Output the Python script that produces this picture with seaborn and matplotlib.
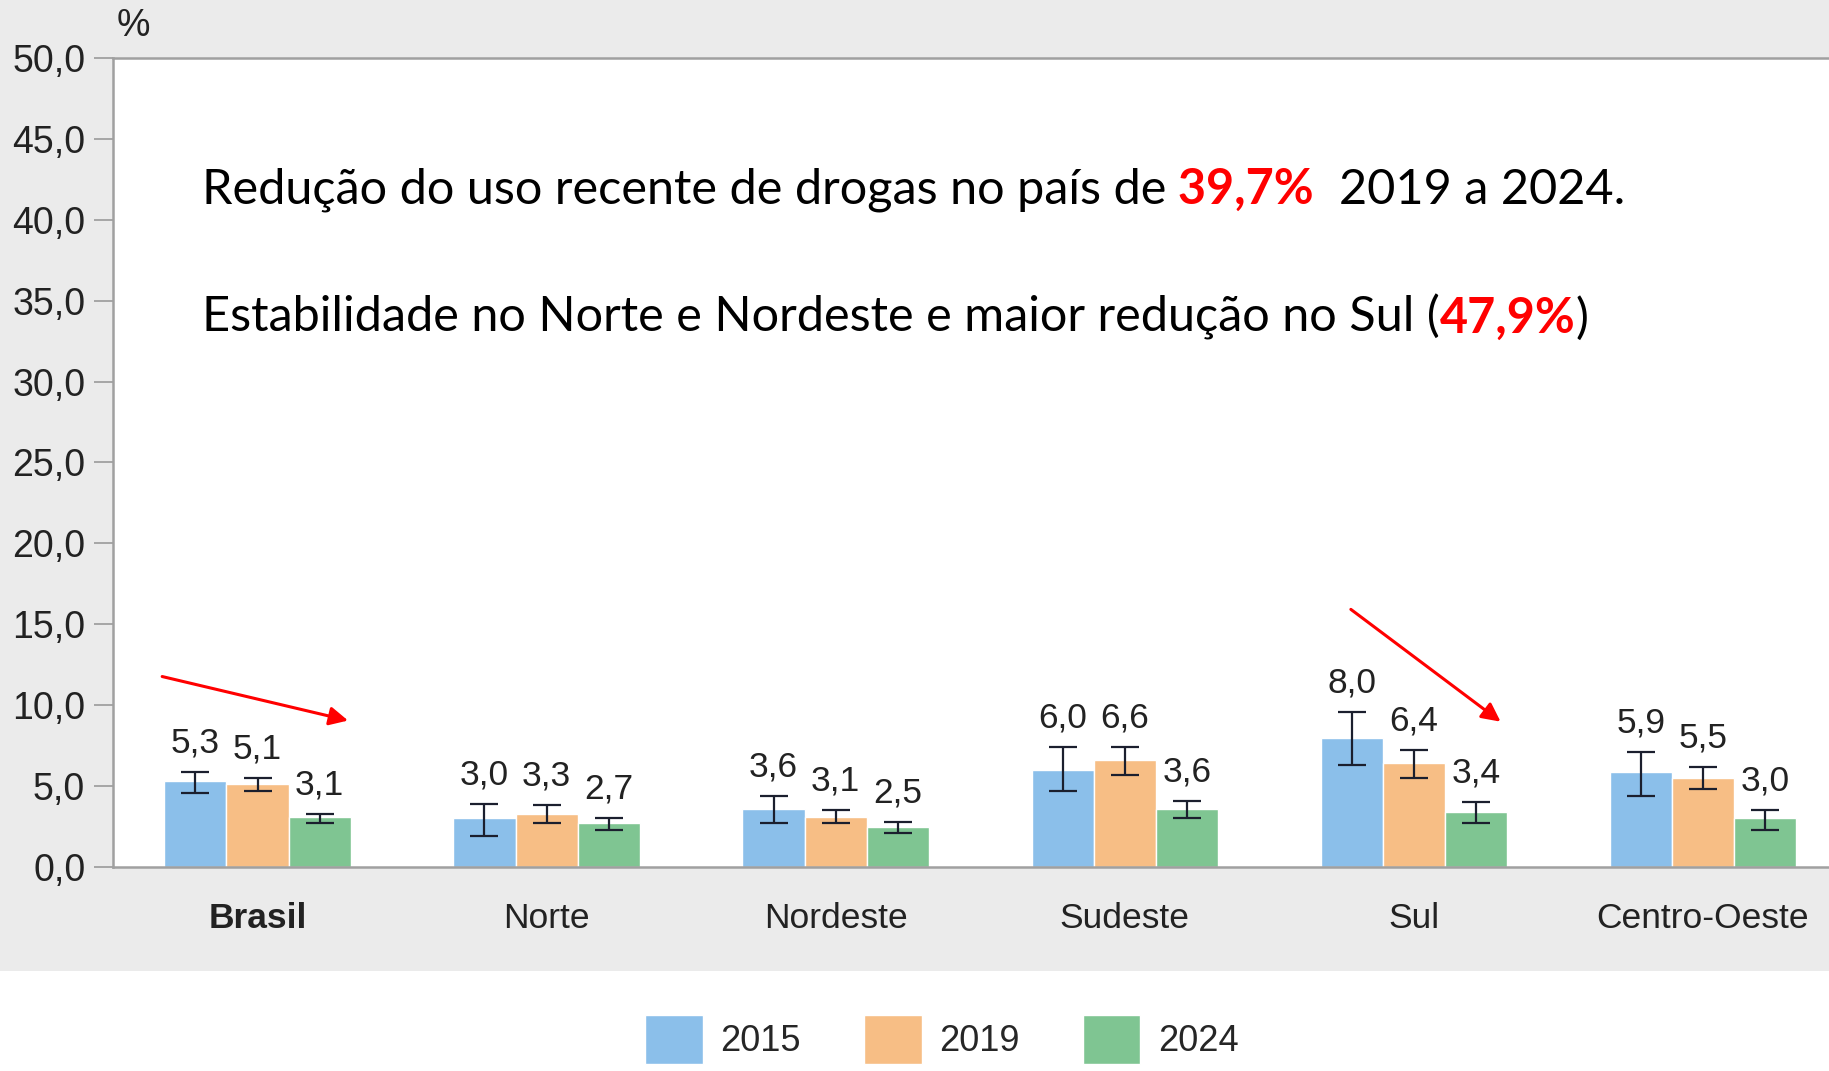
# Uso recente de drogas por região - 2015, 2019 e 2024

import pandas as pd
import matplotlib.pyplot as plt
import seaborn as sns
from matplotlib.patches import Rectangle

regioes = ["Brasil", "Norte", "Nordeste", "Sudeste", "Sul", "Centro-Oeste"]
anos = ["2015", "2019", "2024"]

valores_2015 = [5.3, 3.0, 3.6, 6.0, 8.0, 5.9]
valores_2019 = [5.1, 3.3, 3.1, 6.6, 6.4, 5.5]
valores_2024 = [3.1, 2.7, 2.5, 3.6, 3.4, 3.0]

# intervalos de confiança
ic_inf_2015 = [4.6, 1.9, 2.7, 4.7, 6.3, 4.4]
ic_sup_2015 = [5.9, 3.9, 4.4, 7.4, 9.6, 7.1]
ic_inf_2019 = [4.7, 2.7, 2.7, 5.7, 5.5, 4.8]
ic_sup_2019 = [5.5, 3.8, 3.5, 7.4, 7.2, 6.2]
ic_inf_2024 = [2.7, 2.3, 2.1, 3.0, 2.7, 2.3]
ic_sup_2024 = [3.3, 3.0, 2.8, 4.1, 4.0, 3.5]

cores = ["#8BBFEA", "#F7BE85", "#7FC592"]

narrow = ["Liberation Sans Narrow", "Liberation Sans"]
label_font = ["Liberation Sans", "DejaVu Sans"]
note_font = ["Lato", "DejaVu Sans"]


def build_frame():
    rows = []
    series = [
        (valores_2015, ic_inf_2015, ic_sup_2015),
        (valores_2019, ic_inf_2019, ic_sup_2019),
        (valores_2024, ic_inf_2024, ic_sup_2024),
    ]
    for ano, (vals, lo, hi) in zip(anos, series):
        for reg, v, l, h in zip(regioes, vals, lo, hi):
            rows.append({"regiao": reg, "ano": ano, "valor": v, "inf": l, "sup": h})
    return pd.DataFrame(rows)


def fmt(v):
    return f"{v:.1f}".replace(".", ",")


def plot_uso_drogas(df):
    sns.set_style("white")
    plt.rcParams["font.family"] = label_font

    fig = plt.figure(figsize=(18.29, 10.71), dpi=100, facecolor="white")
    # fundo cinza da área do gráfico
    fig.add_artist(Rectangle((0, 0.0934), 1, 0.91, transform=fig.transFigure,
                             facecolor="#EBEBEB", edgecolor="none", zorder=-10))

    ax = fig.add_axes([0.0618, 0.1905, 0.9382, 0.7554])
    ax.set_facecolor("white")

    sns.barplot(data=df, x="regiao", y="valor", hue="ano", order=regioes,
                hue_order=anos, palette=cores, saturation=1, width=0.645,
                gap=0, errorbar=None, ax=ax)

    # barras de erro + rótulos de valor
    for cont, ano in zip(ax.containers, anos):
        sub = df[df["ano"] == ano].set_index("regiao").loc[regioes]
        xs = [p.get_x() + p.get_width() / 2 for p in cont.patches]
        vals = sub["valor"].to_numpy()
        lo = vals - sub["inf"].to_numpy()
        hi = sub["sup"].to_numpy() - vals
        ax.errorbar(xs, vals, yerr=[lo, hi], fmt="none", ecolor="#1B1F2E",
                    elinewidth=1.6, capsize=10, capthick=1.6, zorder=5)
        for x, v, top in zip(xs, vals, sub["sup"].to_numpy()):
            ax.annotate(fmt(v), xy=(x, top), xytext=(0, 9), textcoords="offset points",
                        ha="center", va="bottom", fontsize=25.5, color="#222222")

    ax.set_xlim(-0.5, 5.436)
    ax.set_ylim(0, 50)
    ax.set_yticks(range(0, 51, 5))
    ax.set_yticklabels([fmt(v) for v in range(0, 51, 5)], family=narrow, fontsize=27,
                       color="#222222")
    ax.tick_params(axis="y", length=14, width=1.2, color="#9A9A9A", pad=6, left=True)
    ax.tick_params(axis="x", length=0, pad=25, labelsize=25.5, labelcolor="#222222")
    ax.get_xticklabels()[0].set_fontweight("bold")
    ax.set_xlabel("")
    ax.set_ylabel("")

    for side in ["left", "bottom", "top"]:
        ax.spines[side].set_visible(True)
        ax.spines[side].set_color("#A0A0A0")
        ax.spines[side].set_linewidth(1.8)
    ax.spines["right"].set_visible(False)

    fig.text(133 / 1829, 1 - 26 / 1071, "%", family=narrow, fontsize=27,
             ha="center", va="center", color="#222222")

    # legenda embaixo
    handles, labels = ax.get_legend_handles_labels()
    ax.get_legend().remove()
    fig.legend(handles, labels, loc="upper left", bbox_to_anchor=(645 / 1829, 0.0523),
               ncol=3, frameon=False, prop={"family": narrow, "size": 26},
               handlelength=1.6, handleheight=1.7, handletextpad=0.48,
               columnspacing=1.75, borderpad=0, borderaxespad=0)

    # textos de destaque
    linhas = [
        [("Redução do uso recente de drogas no país de", "black", "normal"),
         (" 39,7%", "red", "bold"),
         ("  2019 a 2024.", "black", "normal")],
        [("Estabilidade no Norte e Nordeste e maior redução no Sul (", "black", "normal"),
         ("47,9%", "red", "bold"),
         (")", "black", "normal")],
    ]
    baselines = [1071 - 203, 1071 - 332]
    for partes, yb in zip(linhas, baselines):
        prev = None
        for txt, cor, peso in partes:
            if prev is None:
                prev = ax.annotate(txt, xy=(202, yb), xycoords="figure pixels",
                                   ha="left", va="baseline", fontsize=35,
                                   family=note_font, color=cor, fontweight=peso)
            else:
                prev = ax.annotate(txt, xy=(1, 0), xycoords=prev, ha="left",
                                   va="bottom", fontsize=35, family=note_font,
                                   color=cor, fontweight=peso)

    # setas
    seta = dict(arrowstyle="-|>", color="red", lw=2.2, mutation_scale=28,
                shrinkA=0, shrinkB=0)
    ax.annotate("", xy=(0.313, 9.05), xytext=(-0.33, 11.77), arrowprops=seta)
    ax.annotate("", xy=(4.30, 8.98), xytext=(3.782, 15.92), arrowprops=seta)

    fig.savefig("out.png", dpi=100, facecolor=fig.get_facecolor())


if __name__ == "__main__":
    dados = build_frame()
    plot_uso_drogas(dados)
